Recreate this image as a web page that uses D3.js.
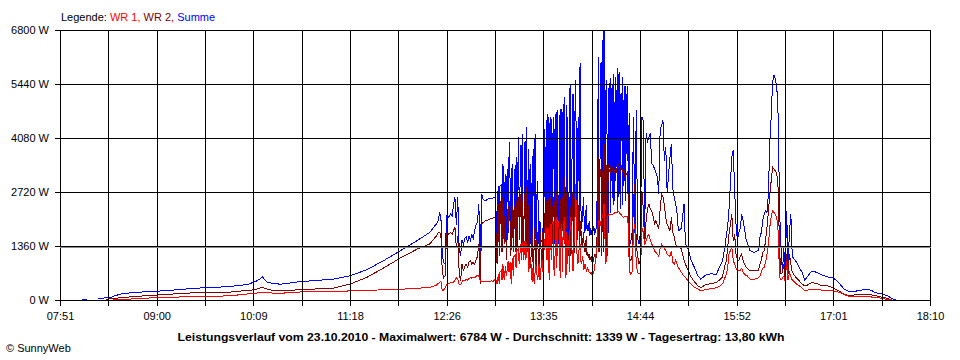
<!DOCTYPE html>
<html><head><meta charset="utf-8">
<script src="https://cdn.jsdelivr.net/npm/d3@7"></script>
<style>
html,body{margin:0;padding:0;background:#fff;}
svg{display:block;font-family:"Liberation Sans",Arial,sans-serif;}
</style></head><body>
<svg id="c" width="960" height="360"></svg>
<script>
const legendLabels = ["WR 1", "WR 2", "Summe"];
const xTickLabels = ["07:51","09:00","10:09","11:18","12:26","13:35","14:44","15:52","17:01","18:10"];
const yTickValues = [0, 1360, 2720, 4080, 5440, 6800];
const titleText = "Leistungsverlauf vom 23.10.2010 - Maximalwert: 6784 W - Durchschnitt: 1339 W - Tagesertrag: 13,80 kWh";
const creditText = "\u00A9 SunnyWeb";

const times = [
"08:07","08:10","08:11","08:18","08:24","08:27","08:29","08:35","08:46","08:58",
"09:07","09:18","09:31","09:43","09:53","10:04","10:10","10:13","10:15","10:18",
"10:22","10:28","10:42","11:05","11:17","11:29","11:41","11:53","12:05","12:14",
"12:18","12:19","12:20","12:21","12:22","12:23","12:24","12:25","12:26","12:27",
"12:28","12:29","12:30","12:31","12:32","12:33","12:34","12:35","12:36","12:37",
"12:38","12:39","12:40","12:41","12:42","12:43","12:44","12:45","12:46","12:47",
"12:48","12:49","12:50","12:51","12:52","12:53","12:54","12:55","12:56","12:57",
"12:58","12:58:30","12:59","12:59:30","13:00","13:00:30","13:01","13:01:30","13:02","13:02:30",
"13:03","13:03:30","13:04","13:04:30","13:05","13:05:30","13:06","13:06:30","13:07","13:07:30",
"13:08","13:08:30","13:09","13:09:30","13:10","13:10:30","13:11","13:11:30","13:12","13:12:30",
"13:13","13:13:30","13:14","13:14:30","13:15","13:15:30","13:16","13:16:30","13:17","13:17:30",
"13:18","13:18:30","13:19","13:19:30","13:20","13:20:30","13:21","13:21:30","13:22","13:22:30",
"13:23","13:23:30","13:24","13:24:30","13:25","13:25:30","13:26","13:26:30","13:27","13:27:30",
"13:28","13:28:30","13:29","13:29:30","13:30","13:30:30","13:31","13:31:30","13:32","13:32:30",
"13:33","13:33:30","13:34","13:34:30","13:35","13:35:30","13:36","13:36:30","13:37","13:37:30",
"13:38","13:38:30","13:39","13:39:30","13:40","13:40:30","13:41","13:41:30","13:42","13:42:30",
"13:43","13:43:30","13:44","13:44:30","13:45","13:45:30","13:46","13:46:30","13:47","13:47:30",
"13:48","13:48:30","13:49","13:49:30","13:50","13:50:30","13:51","13:51:30","13:52","13:52:30",
"13:53","13:53:30","13:54","13:54:30","13:55","13:55:30","13:56","13:56:30","13:57","13:57:30",
"13:58","13:58:30","13:59","13:59:30","14:00","14:00:30","14:01","14:01:30","14:02","14:02:30",
"14:03","14:03:30","14:04","14:04:30","14:05","14:05:30","14:06","14:06:30","14:07","14:07:30",
"14:08","14:08:30","14:09","14:09:30","14:10","14:10:30","14:11","14:11:30","14:12","14:12:30",
"14:13","14:13:30","14:14","14:14:30","14:15","14:15:30","14:16","14:16:30","14:17","14:17:30",
"14:18","14:18:30","14:19","14:19:30","14:20","14:20:30","14:21","14:21:30","14:22","14:22:30",
"14:23","14:23:30","14:24","14:24:30","14:25","14:25:30","14:26","14:26:30","14:27","14:27:30",
"14:28","14:28:30","14:29","14:29:30","14:30","14:30:30","14:31","14:31:30","14:32","14:32:30",
"14:33","14:33:30","14:34","14:34:30","14:35","14:35:30","14:36","14:36:30","14:37","14:37:30",
"14:38","14:39","14:40","14:41","14:42","14:43","14:44","14:45","14:46","14:47",
"14:48","14:49","14:50","14:51","14:52","14:53","14:54","14:55","14:56","14:57",
"14:58","14:59","15:00",
"15:01","15:02","15:03","15:05","15:06","15:07","15:08","15:09","15:10","15:11",
"15:13","15:14","15:15","15:16","15:18","15:20","15:22","15:25","15:27","15:30",
"15:32","15:35","15:38","15:40","15:42","15:43","15:44","15:45","15:46","15:47",
"15:48","15:49","15:50","15:51","15:52","15:53","15:54","15:55","15:56","15:57",
"15:58","15:59","16:00","16:02","16:05","16:08","16:09","16:10","16:11","16:12",
"16:13","16:14","16:15","16:16","16:17","16:18","16:19","16:20","16:21","16:22",
"16:23","16:24","16:25","16:26","16:27","16:28","16:29","16:30","16:31","16:32",
"16:33","16:35","16:37","16:39","16:41","16:43","16:46","16:49","16:52","16:57",
"17:01","17:05","17:09","17:13","17:18","17:23","17:28","17:31","17:35","17:40",
"17:43","17:46"
];

const summe = [
25,25,null,25,58,58,94,160,195,220,
235,270,303,321,346,387,463,523,581,455,
420,397,463,523,607,758,986,1239,1492,1701,
1880,1913,2000,2183,2100,1100,950,902,2124,2080,
2100,2166,2120,2400,2587,1900,2587,1300,1112,1500,
1400,1550,1584,1450,1600,1500,1650,1550,1750,1900,
1954,2419,986,2671,2550,2500,2503,2530,2550,2560,
2550,2560,2570,2580,2587,2590,2600,1800,1070,2700,
2882,1500,2870,2885,2900,1600,3431,3300,1600,2900,
3178,1500,3100,3300,1700,3700,3977,1500,1700,3300,
3431,1600,1700,3200,3400,1500,3597,1600,4103,3000,
1600,3700,3900,1500,4189,1600,1400,3900,4000,1500,
4356,2000,1400,3800,2600,1400,3431,1500,1400,3600,
3800,1500,4189,1600,1400,3000,2800,1450,1408,2000,
1450,1500,1500,1800,1450,3000,4300,1500,4525,1600,
4694,4500,1450,4400,4600,1500,4550,1600,4600,4300,
1400,4500,4736,1500,4778,1600,1400,4500,4800,1500,
4800,4600,1500,4900,5115,1500,1400,4900,4300,1500,
1600,5000,5452,1500,1700,4800,5200,1500,1400,5300,
5537,1700,1500,4300,4600,1600,5958,2500,1800,2000,
2300,2587,1900,1700,2100,2400,1750,1900,1744,2000,
1600,1800,1744,1650,1650,1850,1800,1650,1750,1800,
2300,3500,6126,1700,1800,5800,6000,1600,6550,1500,
6784,6600,1400,5400,5537,2000,1700,5300,5452,2200,
5600,3000,5452,2400,5700,2500,5621,3000,5300,2200,
5832,2600,5750,2300,5200,4000,5621,2400,5031,3000,
5400,2500,5200,3500,5400,1800,4700,1500,1400,1600,
1700,4609,1700,4778,1550,1400,1700,4609,4525,1700,
4200,4000,4103,4200,3431,3400,3300,3200,3100,2671,
4272,4400,4525,
3500,3850,2700,3600,3937,2800,2600,2419,2200,1744,
1800,2100,2419,1408,1281,1000,850,600,523,620,
649,660,640,817,950,1100,1322,1600,1829,2300,
2925,3597,3767,2800,1900,1492,1700,1800,2166,2000,
1800,1550,1450,1239,1200,1250,1584,1700,2000,2166,
2250,2200,2671,3937,4600,5500,5663,5550,5369,4600,
2200,1322,700,1300,650,2250,900,1700,2166,1100,
1050,950,817,700,500,600,733,700,649,581,
564,438,270,202,228,261,250,185,160,101,
34,0
];

const wr2 = [
null,null,null,null,18,30,40,58,94,119,
140,169,185,190,202,240,260,300,311,280,
240,228,261,295,397,564,801,1054,1280,1408,
1580,1620,1686,1701,1650,700,564,600,1661,1640,
1680,1700,1650,1750,1829,1300,1600,700,480,900,
733,850,900,820,950,986,900,950,900,1000,
1100,1408,400,1913,1950,1980,1997,2010,2020,2040,
2050,2055,2060,2070,2080,2085,2070,1200,900,2000,
2419,1100,1800,2500,2300,1200,2587,2200,1400,2000,
2400,1000,1408,2300,1900,2400,2503,1100,1300,2400,
2200,1200,1800,2300,2400,1100,2503,1300,2600,2200,
1500,2500,2671,1100,2500,1300,1800,2600,2700,1000,
2840,1800,1200,2400,1400,800,900,1700,1600,1000,
700,1800,1500,900,800,1700,1400,800,900,1700,
1600,900,1000,1700,1400,1800,2200,1300,2500,1400,
2671,2400,1400,2200,2600,1200,2500,1400,2587,2500,
1500,2500,2756,1300,2840,1500,1900,2700,2400,1300,
1750,2600,1500,2800,3093,1200,1750,2700,1500,1100,
1200,2600,2250,1100,1500,2700,2000,1100,1300,2800,
2925,1200,1750,2400,2250,1300,2000,1600,1744,1300,
1500,1700,1300,1200,1400,1600,1100,1200,1070,1150,
1000,1050,1000,1100,1050,1000,1100,1150,1100,1050,
1400,2500,3597,1200,2925,3300,3100,1100,3250,1200,
3937,3800,1100,3400,1200,1100,3431,3200,3300,3200,
3345,3400,3300,3250,3250,3300,3178,3200,3250,3350,
3431,3400,3345,3250,3300,3350,3250,3300,3345,3200,
3093,3150,3178,3200,3250,1100,2200,1000,986,1050,
1100,2500,2925,1400,1100,900,1000,2756,2300,1400,
2000,2300,2419,2300,2250,2100,1913,2000,1900,1800,
2300,2671,2600,
2400,2080,1900,1750,2080,1700,1600,1400,1350,1322,
1300,1150,1000,902,733,580,480,350,311,380,
397,420,438,500,564,700,850,986,1300,1661,
1900,2166,1500,1661,1155,1000,986,1100,1155,1000,
900,830,800,733,733,750,902,1000,1200,1239,
1500,1829,2200,2671,3000,3345,3300,3250,3178,2800,
1200,649,700,900,500,1155,650,1155,900,700,
649,550,480,400,354,380,438,420,371,360,
311,228,143,101,143,140,130,110,76,40,
0,null
];

const wr1 = [
null,null,null,null,null,0,0,18,30,58,
58,80,94,94,110,150,169,190,195,190,
175,170,202,215,228,245,255,270,295,320,
360,380,420,438,480,228,250,300,397,420,
410,440,430,450,500,564,520,400,380,450,
500,480,520,500,540,564,550,580,560,600,
615,600,480,470,480,470,480,470,460,470,
480,475,470,480,500,510,523,450,400,550,
649,400,700,720,750,500,902,800,500,700,
850,600,700,900,986,700,900,950,400,900,
1050,600,1100,1100,1150,800,1239,1250,1300,1000,
900,1350,1408,1000,1450,1400,1000,1450,1492,1000,
1408,1350,1300,700,900,950,1000,600,450,800,
564,400,700,900,800,600,500,850,900,500,
700,900,1000,700,1100,1300,1500,1700,1829,1000,
1750,1800,500,1500,1913,1000,1900,1950,2000,700,
600,1900,2080,800,2050,1950,1900,900,564,1850,
1900,700,1800,1950,2080,1000,564,1700,900,1300,
1500,700,2080,1900,1800,900,733,1400,1500,2200,
2925,1500,1000,900,1200,1300,1400,1000,900,1000,
1100,750,800,900,850,700,750,800,733,700,
700,680,650,700,700,680,733,850,1000,1200,
1300,1600,1997,2000,1950,1900,2000,2050,2100,2200,
2419,2300,900,950,1000,1900,2166,2150,2150,2160,
2166,2150,2150,2170,2180,2190,2208,2200,2200,2230,
2250,2230,2200,2180,2166,2130,2100,2090,2080,2100,
2120,2110,2100,2100,2100,1500,900,700,650,680,
700,1700,1913,900,700,650,700,1829,1700,1400,
1500,1600,1661,1500,1408,1350,1239,1200,1150,1100,
1300,1408,1350,
1300,1239,1150,1100,1239,950,900,1000,900,817,
700,650,600,564,480,400,330,280,228,260,
270,290,311,340,397,450,550,649,800,1155,
1250,1322,1000,900,800,733,733,750,800,700,
650,620,607,523,523,560,607,700,800,817,
950,1155,1400,1829,2100,2250,2200,2150,2080,1700,
564,500,550,600,450,986,500,700,600,500,
480,400,354,300,228,250,270,265,253,240,
228,200,140,76,80,80,76,70,45,10,
0,null
];

if (![summe, wr2, wr1].every(a => a.length === times.length)) {
  console.error("length mismatch", times.length, summe.length, wr2.length, wr1.length);
}

const colors = ["#ff0000", "#800000", "#0000ff"];
const FONT = "'Liberation Sans', Arial, sans-serif";

const parseT = s => { const p = s.split(":").map(Number); return p[0] * 60 + p[1] + (p[2] || 0) / 60; };

const svg = d3.select("#c");
const x = d3.scaleLinear()
  .domain([parseT(xTickLabels[0]), parseT(xTickLabels[xTickLabels.length - 1])])
  .range([60, 930]);
const y = d3.scaleLinear().domain([0, 6800]).range([300, 30]);
const px = v => Math.round(v) + 0.5;

// data lines (blue first, red on top)
const line = d3.line().defined(d => d[1] != null).x(d => x(d[0])).y(d => y(d[1]));
[[summe, colors[2]], [wr2, colors[1]], [wr1, colors[0]]].forEach(([vals, col]) => {
  const pts = times.map((t, i) => [parseT(t), vals[i]]);
  svg.append("path").datum(pts)
    .attr("d", line)
    .attr("fill", "none")
    .attr("stroke", col)
    .attr("stroke-width", 1)
    .attr("shape-rendering", "crispEdges");
});

// grid
const nGrid = 18;
const [t0, t1] = x.domain();
const gridT = d3.range(nGrid + 1).map(i => t0 + i * (t1 - t0) / nGrid);
const grid = svg.append("g").attr("shape-rendering", "crispEdges");
grid.selectAll("line.v").data(gridT).join("line").attr("class", "v")
  .attr("x1", d => px(x(d))).attr("x2", d => px(x(d)))
  .attr("y1", px(y(6800))).attr("y2", y(0) + 6)
  .attr("stroke", "#000").attr("stroke-width", 1);
grid.selectAll("line.h").data(yTickValues).join("line").attr("class", "h")
  .attr("x1", 55).attr("x2", px(x(t1)) + 0.5)
  .attr("y1", d => px(y(d))).attr("y2", d => px(y(d)))
  .attr("stroke", "#000").attr("stroke-width", 1);
grid.append("line")
  .attr("x1", 60).attr("x2", px(x(t1)) + 0.5)
  .attr("y1", px(y(1360)) + 1).attr("y2", px(y(1360)) + 1)
  .attr("stroke", "#8c8c8c").attr("stroke-width", 1);

// axes (labels only)
const yAxis = d3.axisLeft(y).tickValues(yTickValues).tickFormat(d => d + " W").tickSize(0).tickPadding(11);
svg.append("g").attr("transform", "translate(60,0)").call(yAxis)
  .attr("font-size", 11).attr("font-family", FONT)
  .call(g => g.select(".domain").remove())
  .call(g => g.selectAll("text").attr("fill", "#000"));

const xTicks = gridT.filter((d, i) => i % 2 === 0);
const xAxis = d3.axisBottom(x).tickValues(xTicks).tickFormat((d, i) => xTickLabels[i]).tickSize(0).tickPadding(12);
svg.append("g").attr("transform", "translate(0,300)").call(xAxis)
  .attr("font-size", 11).attr("font-family", FONT)
  .call(g => g.select(".domain").remove())
  .call(g => g.selectAll("text").attr("fill", "#000"));

// legend
const leg = svg.append("text").attr("x", 61).attr("y", 20.5)
  .attr("font-size", 11).attr("font-family", FONT);
leg.append("tspan").attr("fill", "#000").text("Legende: ");
legendLabels.forEach((l, i) => {
  leg.append("tspan").attr("fill", colors[i]).text(l + (i < legendLabels.length - 1 ? ", " : ""));
});

// title
svg.append("text").attr("x", 481).attr("y", 341)
  .attr("text-anchor", "middle").attr("font-size", 11).attr("font-weight", "bold")
  .attr("font-family", FONT).attr("textLength", 607).attr("lengthAdjust", "spacingAndGlyphs")
  .attr("fill", "#000").text(titleText);

// credit
svg.append("text").attr("x", 6).attr("y", 352)
  .attr("font-size", 11).attr("font-family", FONT).attr("fill", "#000").text(creditText);
</script>
</body></html>
